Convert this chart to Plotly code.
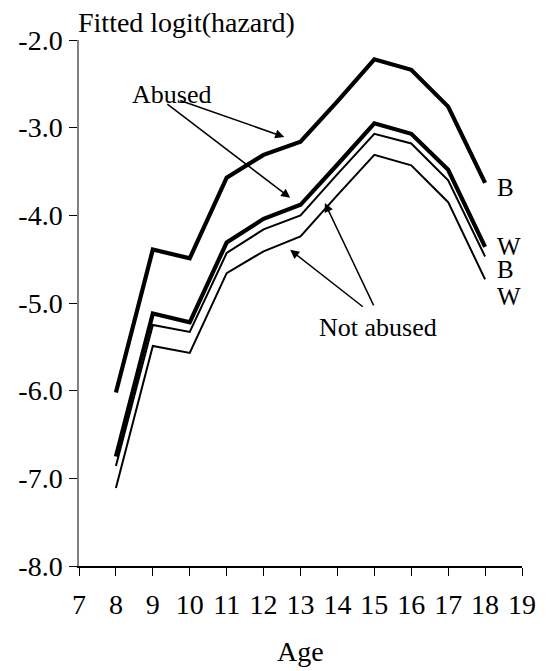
import plotly.graph_objects as go

ages = [8, 9, 10, 11, 12, 13, 14, 15, 16, 17, 18]
abused_black = [-6.02, -4.39, -4.49, -3.57, -3.31, -3.16, -2.70, -2.22, -2.34, -2.76, -3.63]
abused_white = [-6.75, -5.12, -5.22, -4.31, -4.04, -3.88, -3.42, -2.95, -3.07, -3.48, -4.36]
notabused_black = [-6.86, -5.25, -5.33, -4.43, -4.16, -4.00, -3.53, -3.07, -3.18, -3.60, -4.47]
notabused_white = [-7.11, -5.49, -5.57, -4.66, -4.41, -4.24, -3.77, -3.31, -3.43, -3.85, -4.73]

series = [
    ("Abused, Black", abused_black, 4.2, "B"),
    ("Abused, White", abused_white, 4.2, "W"),
    ("Not abused, Black", notabused_black, 2.0, "B"),
    ("Not abused, White", notabused_white, 2.0, "W"),
]

x_tick_vals = list(range(7, 20))
x_tick_labels = [str(v) for v in x_tick_vals]
y_tick_vals = [-8, -7, -6, -5, -4, -3, -2]
y_tick_labels = ["-8.0", "-7.0", "-6.0", "-5.0", "-4.0", "-3.0", "-2.0"]

end_label_y = [-3.68, -4.35, -4.62, -4.93]

FONT = "Liberation Serif"

fig = go.Figure()
for name, vals, w, _ in series:
    fig.add_trace(go.Scatter(x=ages, y=vals, mode="lines", name=name,
                             line=dict(color="black", width=w),
                             showlegend=False, hoverinfo="skip"))

anns = []
# end labels
for (name, vals, w, lab), ly in zip(series, end_label_y):
    anns.append(dict(x=18.3, y=ly, xref="x", yref="y", text=lab, showarrow=False,
                     xanchor="left", yanchor="middle", borderpad=0,
                     font=dict(family=FONT, size=25, color="black")))

# group labels
anns.append(dict(x=9.51, y=-2.62, xref="x", yref="y", text="Abused", showarrow=False,
                 xanchor="center", yanchor="middle",
                 font=dict(family=FONT, size=26, color="black")))
anns.append(dict(x=15.10, y=-5.28, xref="x", yref="y", text="Not abused", showarrow=False,
                 xanchor="center", yanchor="middle",
                 font=dict(family=FONT, size=26, color="black")))

arrows = [
    ((9.70, -2.684), (12.56, -3.106)),
    ((9.353, -2.718), (12.72, -3.80)),
    ((14.73, -5.056), (12.72, -4.394)),
    ((15.0, -5.044), (13.66, -3.859)),
]
for (tx, ty), (hx, hy) in arrows:
    anns.append(dict(x=hx, y=hy, ax=tx, ay=ty, xref="x", yref="y", axref="x", ayref="y",
                     text="", showarrow=True, arrowhead=2, arrowsize=1.2, arrowwidth=1.5,
                     arrowcolor="black", standoff=0, startstandoff=0))

# y-axis title
anns.append(dict(x=-0.007, y=1.0, xref="paper", yref="paper", text="Fitted logit(hazard)",
                 showarrow=False, xanchor="left", yanchor="bottom",
                 font=dict(family=FONT, size=28, color="black")))
# x-axis title
anns.append(dict(x=0.5, y=-0.162, xref="paper", yref="paper", text="Age",
                 showarrow=False, xanchor="center", yanchor="middle",
                 font=dict(family=FONT, size=28, color="black")))

fig.update_layout(
    width=548, height=671,
    margin=dict(l=79, r=20, t=40, b=105),
    paper_bgcolor="white", plot_bgcolor="white",
    font=dict(family=FONT, size=28, color="black"),
    annotations=anns,
)
fig.update_xaxes(range=[7, 19], tickvals=x_tick_vals, ticktext=x_tick_labels,
                 showgrid=False, zeroline=False, showline=True, linecolor="black", linewidth=1.5,
                 ticks="outside", ticklen=8, tickcolor="black", tickwidth=1.2,
                 ticklabelstandoff=5, tickfont=dict(family=FONT, size=28))
fig.update_yaxes(range=[-8, -2], tickvals=y_tick_vals, ticktext=y_tick_labels,
                 showgrid=False, zeroline=False, showline=True, linecolor="#808080", linewidth=1.5,
                 ticks="outside", ticklen=8, tickcolor="black", tickwidth=1.2,
                 ticklabelstandoff=1, tickfont=dict(family=FONT, size=28))

fig.write_html("out.html")
